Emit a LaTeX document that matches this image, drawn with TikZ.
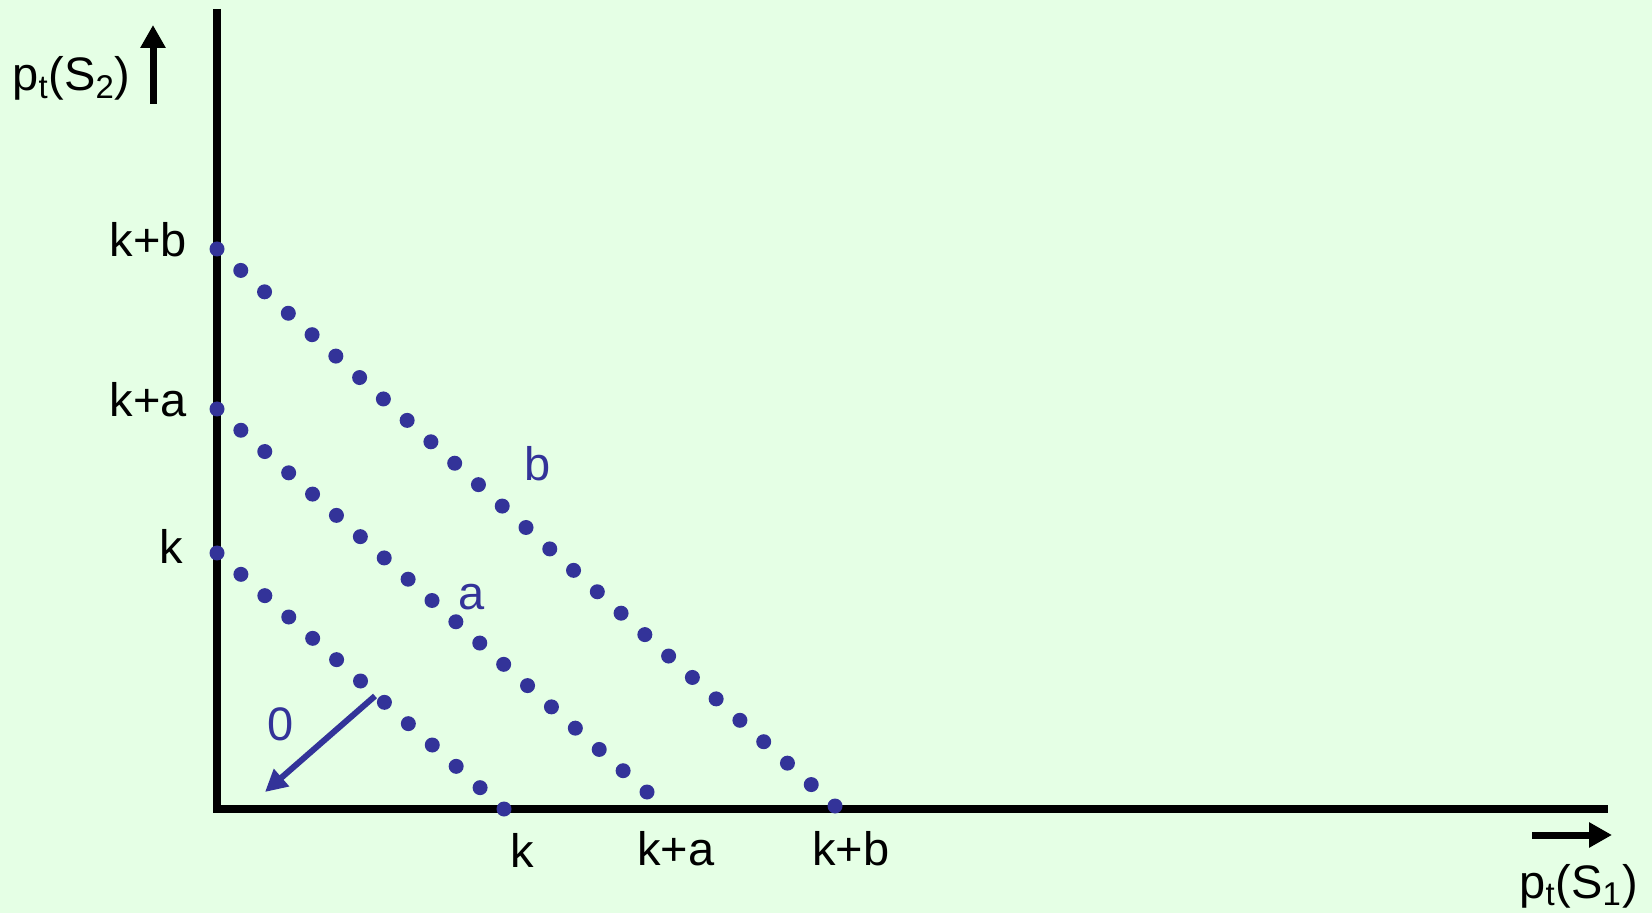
\documentclass[tikz,border=0pt]{standalone}
\usepackage{fontspec}
\setmainfont{Liberation Sans}
\usetikzlibrary{arrows.meta,calc}
\definecolor{bg}{RGB}{229,255,229}
\definecolor{dotblue}{RGB}{51,51,153}
\begin{document}
\begin{tikzpicture}[x=0.5pt,y=-0.5pt,
  lbl/.style={font=\fontsize{23.5}{28}\selectfont, inner sep=0pt, text=black},
  blbl/.style={lbl, text=dotblue},
  axisline/.style={line width=4pt, draw=black, line join=miter},
  dirarrow/.style={line width=3.5pt, draw=black, -{Triangle[width=12pt,length=11.5pt]}},
  zeroarrow/.style={line width=3pt, draw=dotblue, -{Triangle[width=11pt,length=11pt]}},
  dotstyle/.style={fill=dotblue}
]
\fill[bg] (0,0) rectangle (1652,913);
\useasboundingbox (0,0) rectangle (1652,913);

% axes
\coordinate (ytop) at (217,9);
\coordinate (origin) at (217,809);
\coordinate (xend) at (1608,809);
\draw[axisline] (ytop) -- (origin) -- (xend);

% direction arrows
\coordinate (upS) at (153,104);
\coordinate (upE) at (153,25);
\draw[dirarrow] (upS) -- (upE);
\coordinate (rtS) at (1532,835);
\coordinate (rtE) at (1612,835);
\draw[dirarrow] (rtS) -- (rtE);

% dotted lines
\coordinate (b0) at (217,249); \coordinate (b1) at (835,806);
\coordinate (a0) at (217,409); \coordinate (a1) at (647,792);
\coordinate (k0) at (217,553); \coordinate (k1) at (504,809);
\foreach \s/\e/\n in {b0/b1/26, a0/a1/18, k0/k1/12}{
  \foreach \i in {0,...,\n}{
    \fill[dotstyle] ($(\s)!{\i/\n}!(\e)$) circle[radius=3.75pt];
  }
}

% arrow 0
\coordinate (zs) at (375,696);
\coordinate (ze) at (265,792);
\draw[zeroarrow] (zs) -- (ze);

% labels
\node[lbl, anchor=base west] (ylab) at (12,91) {p\textsubscript{t}(S\textsubscript{2})};
\node[lbl, anchor=base west] (xlab) at (1519,898) {p\textsubscript{t}(S\textsubscript{1})};
\node[lbl, anchor=base east] (ykb) at (187,257) {k+b};
\node[lbl, anchor=base east] (yka) at (187,417) {k+a};
\node[lbl, anchor=base east] (yk) at (183,564) {k};
\node[lbl, anchor=base] (xk) at (522,867) {k};
\node[lbl, anchor=base] (xka) at (676,865) {k+a};
\node[lbl, anchor=base] (xkb) at (851,865) {k+b};
\node[blbl, anchor=base] (lb) at (538,481) {b};
\node[blbl, anchor=base] (la) at (472,609) {a};
\node[blbl, anchor=base] (l0) at (281,740) {0};
\end{tikzpicture}
\end{document}
